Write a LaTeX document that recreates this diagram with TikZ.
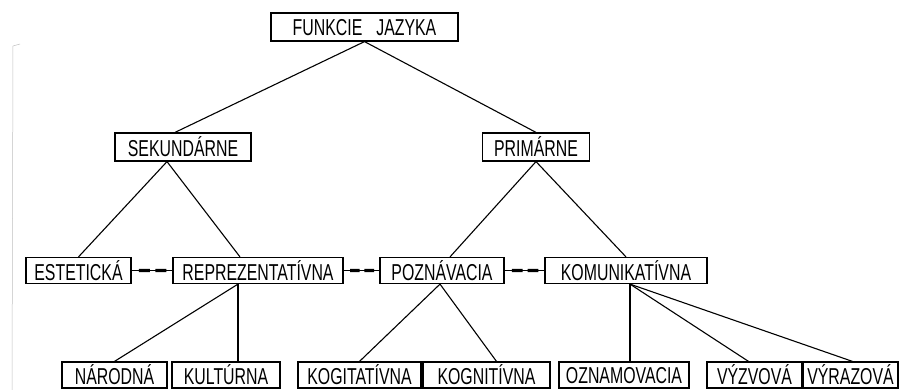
\documentclass[tikz,border=0pt]{standalone}
\usepackage{fontspec}
\usetikzlibrary{calc}
\setmainfont{Liberation Sans}[FakeStretch=0.69]
\begin{document}
\begin{tikzpicture}[x=1pt,y=-1pt,
  box/.style={draw,line width=1.2pt,inner sep=0pt,minimum height=26pt,font=\fontsize{23}{23}\selectfont,text depth=0pt},
  link/.style={line width=1.1pt},
  pair/.style={line width=0.9pt}]
\useasboundingbox (0,0) rectangle (905,390);
\draw[gray!50,line width=0.5pt] (20,44) -- (13,46) -- (12,390);
\node[box,minimum width=187pt,minimum height=28pt] (fj) at (364.5,27) {FUNKCIE\hspace{14pt}JAZYKA};
\node[box,minimum width=136pt,minimum height=28pt] (sek) at (183,147) {SEKUNDÁRNE};
\node[box,minimum width=107pt,minimum height=28pt] (pri) at (536,147) {PRIMÁRNE};
\node[box,minimum width=105pt] (est) at (78.5,270.5) {ESTETICKÁ};
\node[box,minimum width=170pt] (rep) at (258,270.5) {REPREZENTATÍVNA};
\node[box,minimum width=124pt] (poz) at (442,270.5) {POZNÁVACIA};
\node[box,minimum width=162pt] (kom) at (626,270.5) {KOMUNIKATÍVNA};
\node[box,minimum width=105pt] (nar) at (114.5,375) {NÁRODNÁ};
\node[box,minimum width=108pt] (kul) at (226,375) {KULTÚRNA};
\node[box,minimum width=123pt] (kog) at (359.5,375) {KOGITATÍVNA};
\node[box,minimum width=127pt] (kgn) at (486.5,375) {KOGNITÍVNA};
\node[box,minimum width=130pt] (ozn) at (624,375) {OZNAMOVACIA};
\node[box,minimum width=95pt] (vyz) at (754.5,375) {VÝZVOVÁ};
\node[box,minimum width=95pt] (vyr) at (850.5,375) {VÝRAZOVÁ};
% tree lines
\draw[link] (fj.south) -- ([xshift=-8pt]sek.north);
\draw[link] (fj.south) -- (pri.north);
\draw[link] ([xshift=-16pt]sek.south) -- (est.north);
\draw[link] ([xshift=-16pt]sek.south) -- ([xshift=-18pt]rep.north);
\draw[link] (pri.south) -- ([xshift=8pt]poz.north);
\draw[link] (pri.south) -- (kom.north);
\draw[link] ([xshift=-20pt]rep.south) -- (nar.north);
\draw[link] ([xshift=-20pt]rep.south) -- ([xshift=12pt]kul.north);
\draw[link] ([xshift=-2pt]poz.south) -- (kog.north);
\draw[link] ([xshift=-2pt]poz.south) -- ([xshift=10pt]kgn.north);
\draw[link] ([xshift=4pt]kom.south) -- ([xshift=6pt]ozn.north);
\draw[link] ([xshift=4pt]kom.south) -- ([xshift=-6pt]vyz.north);
\draw[link] ([xshift=4pt]kom.south) -- ([xshift=2pt]vyr.north);
% paired links
\foreach \a/\b in {est/rep,rep/poz,poz/kom}{
  \draw[pair] (\a.east) -- (\b.west);
  \draw[line width=3.2pt] ($(\a.east)!0.18!(\b.west)$) -- ($(\a.east)!0.45!(\b.west)$);
  \draw[line width=3.2pt] ($(\a.east)!0.58!(\b.west)$) -- ($(\a.east)!0.85!(\b.west)$);
}
\end{tikzpicture}
\end{document}
